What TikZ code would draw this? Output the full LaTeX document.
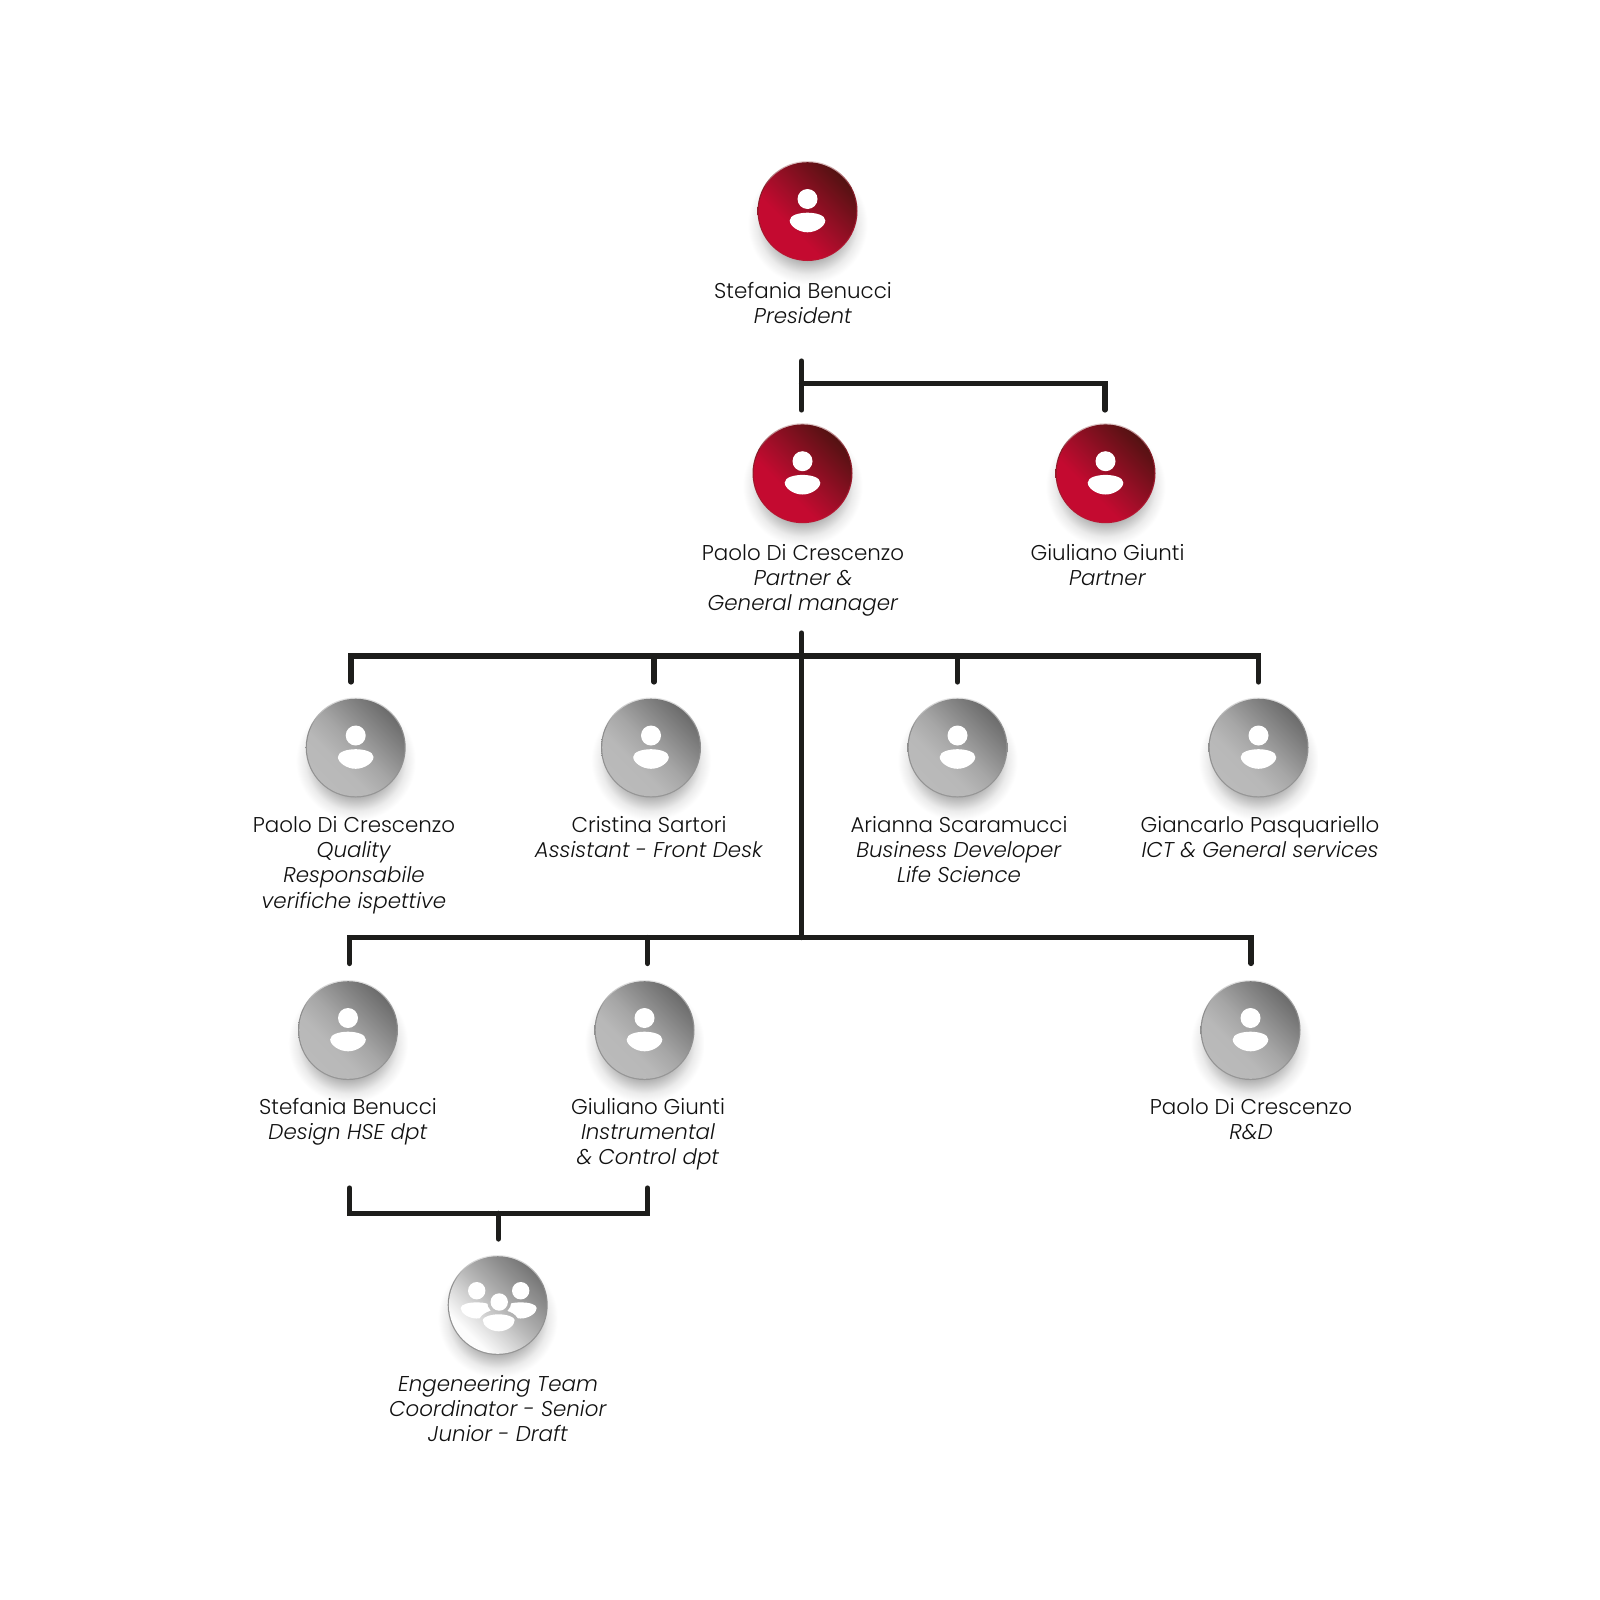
\documentclass[tikz,border=0pt]{standalone}
\usepackage{fontspec}
\setmainfont{Poppins}[UprightFont=* Light,ItalicFont=* Light Italic]
\definecolor{ink}{HTML}{1D1D1B}
\definecolor{labelink}{HTML}{111111}
\pgfdeclarehorizontalshading{redball}{100bp}{color(0bp)=(rgb,255:red,196;green,10;blue,48); color(38bp)=(rgb,255:red,196;green,10;blue,48); color(50bp)=(rgb,255:red,160;green,14;blue,40); color(75bp)=(rgb,255:red,84;green,18;blue,18); color(100bp)=(rgb,255:red,84;green,18;blue,18)}
\pgfdeclarehorizontalshading{greyball}{100bp}{color(0bp)=(rgb,255:red,190;green,190;blue,190); color(38bp)=(rgb,255:red,184;green,184;blue,184); color(50bp)=(rgb,255:red,166;green,166;blue,166); color(75bp)=(rgb,255:red,108;green,108;blue,108); color(100bp)=(rgb,255:red,108;green,108;blue,108)}
\pgfdeclarehorizontalshading{teamball}{100bp}{color(0bp)=(rgb,255:red,252;green,252;blue,252); color(29bp)=(rgb,255:red,252;green,252;blue,252); color(50bp)=(rgb,255:red,184;green,184;blue,184); color(75bp)=(rgb,255:red,118;green,118;blue,118); color(100bp)=(rgb,255:red,118;green,118;blue,118)}
\pgfdeclareradialshading{softshadow}{\pgfpoint{0bp}{0bp}}{color(0bp)=(rgb,255:red,175;green,175;blue,175); color(15bp)=(rgb,255:red,175;green,175;blue,175); color(18bp)=(rgb,255:red,205;green,205;blue,205); color(21bp)=(rgb,255:red,235;green,235;blue,235); color(25bp)=(rgb,255:red,255;green,255;blue,255); color(50bp)=(rgb,255:red,255;green,255;blue,255)}
\pgfdeclareverticalshading{redrim}{100bp}{color(0bp)=(rgb,255:red,190;green,20;blue,50); color(25bp)=(rgb,255:red,190;green,20;blue,50); color(62bp)=(rgb,255:red,130;green,30;blue,40); color(75bp)=(rgb,255:red,225;green,205;blue,205); color(100bp)=(rgb,255:red,225;green,205;blue,205)}
\pgfdeclareverticalshading{greyrim}{100bp}{color(0bp)=(rgb,255:red,150;green,150;blue,150); color(25bp)=(rgb,255:red,150;green,150;blue,150); color(60bp)=(rgb,255:red,140;green,140;blue,140); color(75bp)=(rgb,255:red,230;green,230;blue,230); color(100bp)=(rgb,255:red,230;green,230;blue,230)}
\newcommand{\personbody}{(-17.8,9.5) .. controls (-17.8,4) and (-8,1.7) .. (0,1.7) .. controls (8,1.7) and (17.8,4) .. (17.8,9.5) .. controls (17.8,15) and (9,21.3) .. (0,21.3) .. controls (-9,21.3) and (-17.8,15) .. (-17.8,9.5) -- cycle}
\tikzset{
  x=1pt,y=-1pt,
  conn/.style={draw=ink,line width=5.2pt,line cap=round,line join=miter},
  namelabel/.style={anchor=north,inner sep=0pt,align=center,text=labelink,font=\fontsize{21.4}{25.35}\selectfont},
  ballnode/.style={circle,minimum size=100pt,inner sep=0pt,outer sep=0pt},
  pics/ball/.style n args={2}{code={
    \shade[shading=softshadow] (0,13) circle[radius=60];
    \shade[shading=#2rim] (0,0) circle[radius=50];
    \shade[shading=#1,shading angle=45] (0,0) circle[radius=48.8];
  }},
  pics/person/.style={code={
    \fill[white] (0,-12) circle[radius=10];
    \fill[white] \personbody;
  }},
  pics/team/.style={code={
    \fill[white] (-21,-14.3) circle[radius=8.7];
    \fill[white] (23,-14.3) circle[radius=8.7];
    \begin{scope}[shift={(-21,0)},scale=.9]\fill[white] (-17.8,3.4) .. controls (-17.8,-1) and (-8,-3) .. (0,-3) .. controls (8,-3) and (17.8,-1) .. (17.8,3.4) .. controls (17.8,9) and (9,15) .. (0,15) .. controls (-9,15) and (-17.8,9) .. (-17.8,3.4) -- cycle;\end{scope}
    \begin{scope}[shift={(23,0)},scale=.9]\fill[white] (-17.8,3.4) .. controls (-17.8,-1) and (-8,-3) .. (0,-3) .. controls (8,-3) and (17.8,-1) .. (17.8,3.4) .. controls (17.8,9) and (9,15) .. (0,15) .. controls (-9,15) and (-17.8,9) .. (-17.8,3.4) -- cycle;\end{scope}
    \begin{scope}
      \clip (1.5,-3) circle[radius=12] (1,17.7) ellipse[x radius=20,y radius=13];
      \shade[shading=teamball,shading angle=45] (0,0) circle[radius=48.8];
    \end{scope}
    \fill[white] (1.5,-3) circle[radius=8.7];
    \fill[white] (-15,15) .. controls (-15,12) and (-7,9.3) .. (1,9.3) .. controls (9,9.3) and (17,12) .. (17,15) .. controls (17,21) and (9,26.3) .. (1,26.3) .. controls (-7,26.3) and (-15,21) .. (-15,15) -- cycle;
  }},
}
\begin{document}
\begin{tikzpicture}
\useasboundingbox (0,0) rectangle (1600,1600);
\fill[white] (0,0) rectangle (1600,1600);
% balls
\foreach \nm/\px/\py/\sty/\rim in {
 stefpres/807.5/211/redball/red, paolopart/802.5/473.2/redball/red, giulpart/1105.5/473.2/redball/red,
 paoloqual/355.7/747.5/greyball/grey, cristina/651/747.5/greyball/grey, arianna/957.5/747.5/greyball/grey, giancarlo/1258.5/747.5/greyball/grey,
 stefdes/348/1030/greyball/grey, giulinst/644.5/1030/greyball/grey, paolord/1250.5/1030/greyball/grey}{
  \pic at (\px,\py) {ball={\sty}{\rim}};
  \pic at (\px,\py) {person};
  \node[ballnode] (\nm) at (\px,\py) {};
}
\pic at (497.7,1305) {ball={teamball}{grey}};
\pic at (497.7,1305) {team};
\node[ballnode] (team) at (497.7,1305) {};
% connector junctions
\coordinate (t1) at (801.5,361);
\coordinate (t1b) at (801.5,383.5);
\coordinate (t2) at (801.5,410);
\coordinate (t3) at (1105,410);
\coordinate (m0) at (801.5,633);
\coordinate (m1) at (801.5,656);
\coordinate (m2) at (801.5,937.5);
\coordinate (b1) at (351,682);
\coordinate (b2) at (654,682);
\coordinate (b3) at (957.5,682);
\coordinate (b4) at (1258.5,682);
\coordinate (c1) at (349.5,963.5);
\coordinate (c2) at (647.5,963.5);
\coordinate (c3) at (1251,963.5);
\coordinate (d1) at (349.5,1188);
\coordinate (d2) at (647.5,1188);
\coordinate (d3) at (498.3,1239);
\draw[conn] (t1) -- (t2);
\draw[conn] (t1b) -| (t3);
\draw[conn] (m0) -- (m2);
\draw[conn] (b1) |- (m1) -| (b4);
\draw[conn] (b2) -- (b2 |- m1);
\draw[conn] (b3) -- (b3 |- m1);
\draw[conn] (c1) |- (m2) -| (c3);
\draw[conn] (c2) -- (c2 |- m2);
\draw[conn] (d1) |- (d3 |- 0,1213.3) -| (d2);
\draw[conn] (d3) -- (d3 |- 0,1213.3);
% labels
\node[namelabel] (lstef) at (803,280) {\rule{0pt}{18pt}Stefania Benucci\\\textit{President}};
\node[namelabel] (lpaolo) at (803,542) {\rule{0pt}{18pt}Paolo Di Crescenzo\\\textit{Partner \&}\\\textit{General manager}};
\node[namelabel] (lgiul) at (1107.5,542) {\rule{0pt}{18pt}Giuliano Giunti\\\textit{Partner}};
\node[namelabel] (lqual) at (354,814) {\rule{0pt}{18pt}Paolo Di Crescenzo\\\textit{Quality}\\\textit{Responsabile}\\\textit{verifiche ispettive}};
\node[namelabel] (lcris) at (649,814) {\rule{0pt}{18pt}Cristina Sartori\\\textit{Assistant - Front Desk}};
\node[namelabel] (lari) at (959,814) {\rule{0pt}{18pt}Arianna Scaramucci\\\textit{Business Developer}\\\textit{Life Science}};
\node[namelabel] (lgian) at (1260,814) {\rule{0pt}{18pt}Giancarlo Pasquariello\\\textit{ICT \& General services}};
\node[namelabel] (ldes) at (348,1096) {\rule{0pt}{18pt}Stefania Benucci\\\textit{Design HSE dpt}};
\node[namelabel] (linst) at (648,1096) {\rule{0pt}{18pt}Giuliano Giunti\\\textit{Instrumental}\\\textit{\& Control dpt}};
\node[namelabel] (lrd) at (1251,1096) {\rule{0pt}{18pt}Paolo Di Crescenzo\\\textit{R\&D}};
\node[namelabel] (lteam) at (498,1373) {\rule{0pt}{18pt}\textit{Engeneering Team}\\\textit{Coordinator - Senior}\\\textit{Junior - Draft}};
\end{tikzpicture}
\end{document}
